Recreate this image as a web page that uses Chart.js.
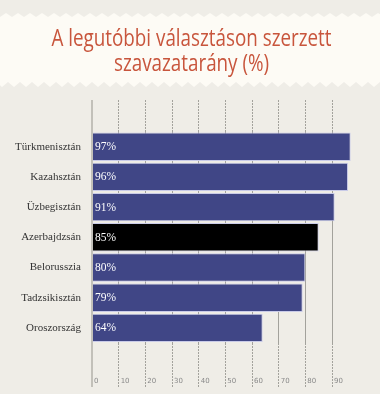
<!DOCTYPE html>
<html><head><meta charset="utf-8">
<script src="https://cdn.jsdelivr.net/npm/chart.js@4"></script>
<style>html,body{margin:0;padding:0;background:#efede7;}canvas{display:block}</style>
</head><body>
<canvas id="c" width="380" height="394"></canvas>
<script>
const titleLines = ['A legutóbbi választáson szerzett', 'szavazatarány (%)'];
const categories = ['Türkmenisztán', 'Kazahsztán', 'Üzbegisztán', 'Azerbajdzsán', 'Belorusszia', 'Tadzsikisztán', 'Oroszország'];
const values = [97, 96, 91, 85, 80, 79, 64];
const highlighted = ['Azerbajdzsán'];
const xTickValues = [0, 10, 20, 30, 40, 50, 60, 70, 80, 90];

const isZero = c => c.tick && c.tick.value === 0;
const gridColor = c => isZero(c) ? '#c2c0b9' : '#a3a29c';
const gridWidth = c => isZero(c) ? 2 : 1;
const gridDash = c => isZero(c) ? [] : [2, 1];
const setTicks = s => { s.ticks = xTickValues.map(v => ({ value: v })); };

const bgPlugin = {
  id: 'bg',
  beforeDraw(chart) {
    const ctx = chart.ctx, W = chart.width, H = chart.height;
    ctx.save();
    ctx.fillStyle = '#efede7';
    ctx.fillRect(0, 0, W, H);
    ctx.fillStyle = '#fdfbf5';
    const p = 12;
    ctx.beginPath();
    ctx.moveTo(-p, 17);
    for (let x = -p; x <= W + p; x += p) { ctx.lineTo(x + p / 2, 13); ctx.lineTo(x + p, 17); }
    ctx.lineTo(W + 2 * p, 82);
    for (let x = W + 2 * p; x >= -p; x -= p) { ctx.lineTo(x - p / 2, 87); ctx.lineTo(x - p, 82); }
    ctx.closePath();
    ctx.fill();
    ctx.fillStyle = '#c8553c';
    ctx.font = '400 24px "Open Sans"';
    ctx.textAlign = 'center';
    ctx.textBaseline = 'alphabetic';
    const s = 280 / ctx.measureText(titleLines[0]).width;
    const baselines = [46, 71];
    titleLines.forEach((t, i) => {
      ctx.save();
      ctx.translate(191.5, baselines[i]);
      ctx.scale(s, 1);
      ctx.fillText(t, 0, 0);
      ctx.restore();
    });
    ctx.restore();
  }
};

const labelPlugin = {
  id: 'labels',
  afterDatasetsDraw(chart) {
    const ctx = chart.ctx;
    const meta = chart.getDatasetMeta(0);
    ctx.save();
    ctx.fillStyle = '#ffffff';
    ctx.font = '11.5px "Liberation Serif"';
    ctx.textAlign = 'left';
    ctx.textBaseline = 'middle';
    meta.data.forEach((bar, i) => {
      ctx.fillText(values[i] + '%', bar.base + 2, bar.y + 0.5);
    });
    const xs = chart.scales.x;
    ctx.fillStyle = '#8a8a8a';
    ctx.font = '7px "DejaVu Sans"';
    xs.ticks.forEach(t => {
      ctx.fillText(String(t.value), xs.getPixelForValue(t.value) + 2, 381.5);
    });
    ctx.restore();
  }
};

new Chart(document.getElementById('c'), {
  type: 'bar',
  data: {
    labels: categories,
    datasets: [{
      data: values,
      backgroundColor: c => highlighted.includes(categories[c.dataIndex]) ? '#000000' : '#404686',
      borderColor: '#c9cbe8',
      borderWidth: 1,
      barPercentage: 0.94,
      categoryPercentage: 1
    }]
  },
  options: {
    indexAxis: 'y',
    responsive: false,
    animation: false,
    devicePixelRatio: 1,
    layout: { padding: { top: 100, right: 21.3, bottom: 7, left: 0 } },
    plugins: { legend: { display: false }, tooltip: { enabled: false }, title: { display: false } },
    scales: {
      x: {
        type: 'linear', position: 'bottom', min: 0, max: 100,
        afterBuildTicks: setTicks,
        grid: { color: gridColor, lineWidth: gridWidth, borderDash: gridDash, tickLength: 44,
                tickColor: gridColor, tickWidth: gridWidth, tickBorderDash: gridDash },
        border: { display: false },
        ticks: { display: false }
      },
      x2: {
        type: 'linear', axis: 'x', position: 'top', min: 0, max: 100,
        afterBuildTicks: setTicks,
        grid: { drawOnChartArea: false, color: gridColor, lineWidth: gridWidth, tickLength: 31.6,
                tickColor: gridColor, tickWidth: gridWidth, tickBorderDash: gridDash },
        border: { display: false },
        ticks: { display: false }
      },
      y: {
        type: 'category',
        grid: { display: false },
        border: { display: false },
        ticks: { color: '#333333', font: { family: 'Liberation Serif', size: 11 }, padding: 3 },
        afterFit: s => { s.width = 92; }
      }
    }
  },
  plugins: [bgPlugin, labelPlugin]
});
</script>
</body></html>
